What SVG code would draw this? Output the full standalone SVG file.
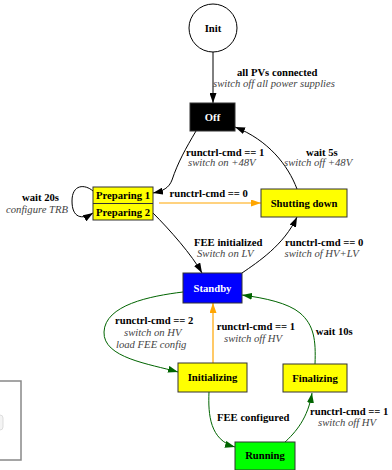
<svg xmlns="http://www.w3.org/2000/svg" width="392" height="470" viewBox="0 0 392 470">
<style>
text{font-family:"Liberation Serif","Times New Roman",serif;font-size:10.67px;fill:#000}
.b{font-weight:bold}
.i{font-style:italic;fill:#444}
.n{font-weight:bold;text-anchor:middle}
.w{fill:#fff}
.box{stroke:#333;stroke-width:1}
.e{fill:none;stroke:#000;stroke-width:1}
.eo{fill:none;stroke:#FFA500;stroke-width:1.2}
.eg{fill:none;stroke:#006400;stroke-width:1}
</style>
<defs>
<marker id="ab" markerWidth="10" markerHeight="7" refX="10" refY="3.5" orient="auto" markerUnits="userSpaceOnUse"><path d="M0,0 L10,3.5 L0,7 z" fill="#000"/></marker>
<marker id="ao" markerWidth="10" markerHeight="7" refX="10" refY="3.5" orient="auto" markerUnits="userSpaceOnUse"><path d="M0,0 L10,3.5 L0,7 z" fill="#FFA500"/></marker>
<marker id="ag" markerWidth="10" markerHeight="7" refX="10" refY="3.5" orient="auto" markerUnits="userSpaceOnUse"><path d="M0,0 L10,3.5 L0,7 z" fill="#006400"/></marker>
</defs>
<rect width="392" height="470" fill="#fff"/>
<g id="panel">
<rect x="-10" y="381" width="31" height="79" fill="#fff" stroke="#888" stroke-width="1.5"/>
<rect x="-5" y="415" width="8" height="15" rx="3" fill="#f4f4f4" stroke="#ddd"/>
</g>
<g id="connectors">
<path class="e" d="M213,52 L213,103" marker-end="url(#ab)"/>
<path class="e" d="M196,131 C186,148 178,162 172,180 C169,188 163,191 153,193" marker-end="url(#ab)"/>
<path class="e" d="M297,189 C288,165 268,140 235,127" marker-end="url(#ab)"/>
<path class="eo" d="M159,203 L261,203" marker-end="url(#ao)"/>
<path class="e" d="M93,191 C85,184 72,184 72,201 C72,218 82,220 93,213" marker-end="url(#ab)"/>
<path class="e" d="M153,213 C170,230 192,255 202,273" marker-end="url(#ab)"/>
<path class="e" d="M242,273 C258,262 284,245 297,217" marker-end="url(#ab)"/>
<path class="eg" d="M183,292 C150,296 105,305 104,332 C103,358 150,364 178,372" marker-end="url(#ag)"/>
<path class="eo" d="M213,363 L213,303" marker-end="url(#ao)"/>
<path class="eg" d="M315,364 C316,340 314,325 300,313 C288,303 265,298 242,295" marker-end="url(#ag)"/>
<path class="eg" d="M209,392 C208,415 210,440 235,447" marker-end="url(#ag)"/>
<path class="eg" d="M284,443 C296,432 308,418 312,393" marker-end="url(#ag)"/>
<text class="b" x="237" y="76">all PVs connected</text>
<text class="i" x="213" y="87">switch off all power supplies</text>
<text class="b" x="186" y="155.5">runctrl-cmd == 1</text>
<text class="i" x="188" y="166">switch on +48V</text>
<text class="b" x="306" y="155.5">wait 5s</text>
<text class="i" x="284" y="166">switch off +48V</text>
<text class="b" x="169.5" y="197">runctrl-cmd == 0</text>
<text class="b" x="22" y="200.5">wait 20s</text>
<text class="i" x="6" y="212.7">configure TRB</text>
<text class="b" x="194" y="245.5">FEE initialized</text>
<text class="i" x="197" y="256.5">Switch on LV</text>
<text class="b" x="285" y="245.5">runctrl-cmd == 0</text>
<text class="i" x="284.5" y="256.5">switch of HV+LV</text>
<text class="b" x="115" y="323.7">runctrl-cmd == 2</text>
<text class="i" x="124" y="335.5">switch on HV</text>
<text class="i" x="116" y="347.7">load FEE config</text>
<text class="b" x="216.7" y="330.2">runctrl-cmd == 1</text>
<text class="i" x="224" y="341.5">switch off HV</text>
<text class="b" x="315.7" y="334.7">wait 10s</text>
<text class="b" x="217" y="420.5">FEE configured</text>
<text class="b" x="310" y="414.5">runctrl-cmd == 1</text>
<text class="i" x="318" y="425.5">switch off HV</text>
</g>
<g id="init">
<circle cx="213" cy="28" r="24" fill="#fff" stroke="#000"/>
<text class="n" x="213" y="32">Init</text>
</g>
<g id="off">
<rect class="box" x="190" y="103" width="45" height="28" fill="#000"/>
<text class="n w" x="212.5" y="120.5">Off</text>
</g>
<g id="preparing">
<rect class="box" x="93" y="187" width="60" height="33" fill="#ff0"/>
<line x1="93" y1="203.5" x2="153" y2="203.5" stroke="#333"/>
<text class="n" x="123" y="199">Preparing 1</text>
<text class="n" x="123" y="215.5">Preparing 2</text>
</g>
<g id="shutting">
<rect class="box" x="261" y="189" width="86" height="28" fill="#ff0"/>
<text class="n" x="304" y="206.5">Shutting down</text>
</g>
<g id="standby">
<rect class="box" x="183" y="273" width="59" height="30" fill="#00f"/>
<text class="n w" x="212.5" y="291.5">Standby</text>
</g>
<g id="initializing">
<rect class="box" x="178" y="363" width="69" height="29" fill="#ff0"/>
<text class="n" x="212.5" y="381">Initializing</text>
</g>
<g id="finalizing">
<rect class="box" x="283" y="364" width="64" height="28" fill="#ff0"/>
<text class="n" x="315" y="381.5">Finalizing</text>
</g>
<g id="running">
<rect class="box" x="235" y="442" width="60" height="28" fill="#0f0"/>
<text class="n" x="265" y="459">Running</text>
</g>
</svg>
